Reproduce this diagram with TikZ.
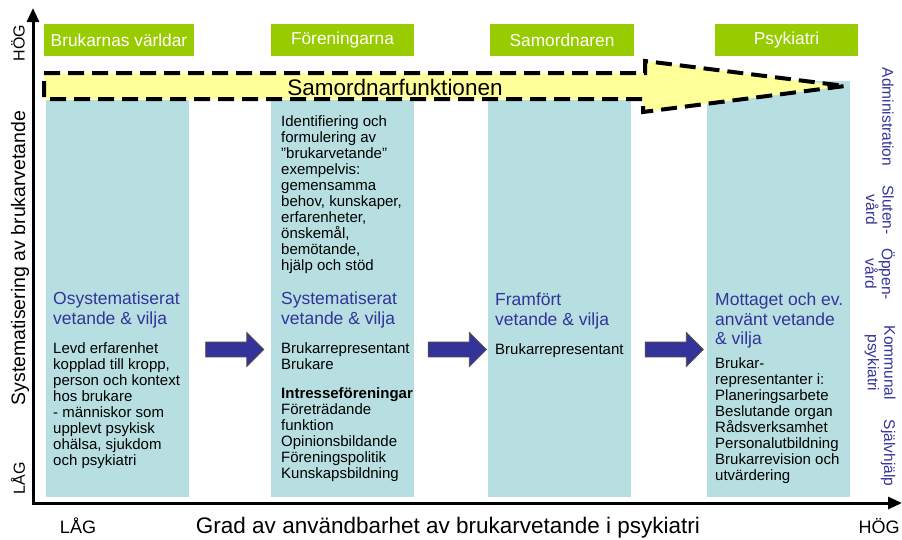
\documentclass[tikz,border=0pt]{standalone}
\usepackage{fontspec}
\setmainfont{Liberation Sans}
\usepackage{tikz}
\usetikzlibrary{shapes.arrows,arrows.meta}

\definecolor{hdrgreen}{RGB}{153,204,0}
\definecolor{colblue}{RGB}{183,223,226}
\definecolor{sunyellow}{RGB}{255,255,153}
\definecolor{inkblue}{RGB}{51,51,153}

\tikzset{
  header/.style={fill=hdrgreen, text=white, minimum height=32pt, inner sep=0pt,
    font=\fontsize{17.3}{19}\selectfont},
  column/.style={fill=colblue, inner sep=0pt, anchor=north west},
  heading/.style={text=inkblue, align=left, anchor=north west, inner sep=0pt,
    font=\fontsize{17.5}{19.5}\selectfont},
  body/.style={align=left, anchor=north west, inner sep=0pt,
    font=\fontsize{15}{16}\selectfont},
  stepper/.style={single arrow, fill=inkblue, draw=black!70, line width=0.8pt,
    minimum height=58pt, inner xsep=0pt, inner ysep=7pt,
    single arrow head extend=9.5pt},
  side/.style={text=inkblue, rotate=-90, align=center, inner sep=0pt,
    font=\fontsize{15.5}{16.5}\selectfont},
  axis/.style={line width=3pt, -{Triangle[length=14pt,width=12pt]}},
  levellabel/.style={inner sep=0pt, font=\fontsize{16}{18}\selectfont}
}

\begin{document}
\begin{tikzpicture}[x=1pt,y=-1pt]
    \useasboundingbox (0,0) rectangle (902,539);
    %columns
    \node[column, minimum width=143pt, minimum height=397pt] (col1) at (46,100) {};
    \node[column, minimum width=143pt, minimum height=397pt] (col2) at (271,100) {};
    \node[column, minimum width=143pt, minimum height=397pt] (col3) at (488,100) {};
    \node[column, minimum width=143pt, minimum height=416pt] (col4) at (707,81) {};
    %headers
    \node[header, minimum width=150pt] (hdr1) at (119,40) {Brukarnas världar};
    \node[header, minimum width=143pt] (hdr2) at (342.5,40) {Föreningarna};
    \node[header, minimum width=144pt] (hdr3) at (562,40) {Samordnaren};
    \node[header, minimum width=143pt] (hdr4) at (786.5,40) {Psykiatri};
    %coordinating arrow
    \draw[fill=sunyellow, line width=4pt, dash pattern=on 16pt off 8pt]
      (44,73) -- (645,73) -- (645,61) -- (845,86) -- (643,112) -- (643,99) -- (44,99) -- cycle;
    \node[inner sep=0pt, anchor=base, font=\fontsize{22.5}{25}\selectfont] (samord) at (395,95) {Samordnarfunktionen};
    %axes
    \coordinate (origin) at (33,503);
    \coordinate (ytop) at (33,8);
    \coordinate (xend) at (902,503);
    \draw[axis] ([yshift=-1.5pt]origin) -- (ytop);
    \draw[axis] ([xshift=-1.5pt]origin) -- (xend);
    \node[levellabel, rotate=90] (yhigh) at (18,43) {HÖG};
    \node[levellabel, rotate=90] (ylow) at (18,478) {LÅG};
    \node[inner sep=0pt, rotate=90, font=\fontsize{19.5}{22}\selectfont] (ylabel) at (20,258) {Systematisering av brukarvetande};
    \node[levellabel, anchor=base, font=\fontsize{18}{20}\selectfont] (xlow) at (78,533) {LÅG};
    \node[levellabel, anchor=base, font=\fontsize{18}{20}\selectfont] (xhigh) at (879,533) {HÖG};
    \node[inner sep=0pt, anchor=base, font=\fontsize{22.5}{25}\selectfont] (xlabel) at (448,533) {Grad av användbarhet av brukarvetande i psykiatri};
    %side labels
    \node[side] (adm) at (888,117) {Administration};
    \node[side] (sluten) at (880,210) {Sluten-\\vård};
    \node[side] (oppen) at (880,274) {Öppen-\\vård};
    \node[side] (kommun) at (880,363) {Kommunal\\psykiatri};
    \node[side] (sjalv) at (888,453) {Självhjälp};
    %column texts
    \node[heading] (h1) at (53,292) {Osystematiserat\\vetande \& vilja};
    \node[body] (b1) at (53,342) {Levd erfarenhet\\kopplad till kropp,\\person och kontext\\hos brukare\\- människor som\\upplevt psykisk\\ohälsa, sjukdom\\och psykiatri};
    \node[body] (b2a) at (281,115) {Identifiering och\\formulering av\\"brukarvetande"\\exempelvis:\\gemensamma\\behov, kunskaper,\\erfarenheter,\\önskemål,\\bemötande,\\hjälp och stöd};
    \node[heading] (h2) at (281,292) {Systematiserat\\vetande \& vilja};
    \node[body] (b2b) at (281,342) {Brukarrepresentant\\Brukare};
    \node[body] (b2c) at (281,387) {\textbf{Intresseföreningar}\\Företrädande\\funktion\\Opinionsbildande\\Föreningspolitik\\Kunskapsbildning};
    \node[heading] (h3) at (495,293) {Framfört\\vetande \& vilja};
    \node[body] (b3) at (495,343) {Brukarrepresentant};
    \node[heading] (h4) at (715,293) {Mottaget och ev.\\använt vetande\\\& vilja};
    \node[body] (b4) at (715,357) {Brukar-\\representanter i:\\Planeringsarbete\\Beslutande organ\\Rådsverksamhet\\Personalutbildning\\Brukarrevision och\\utvärdering};
    %step arrows
    \node[stepper] (go1) at (231,349.5) {};
    \node[stepper] (go2) at (453.5,349.5) {};
    \node[stepper] (go3) at (670.5,349.5) {};
\end{tikzpicture}
\end{document}
